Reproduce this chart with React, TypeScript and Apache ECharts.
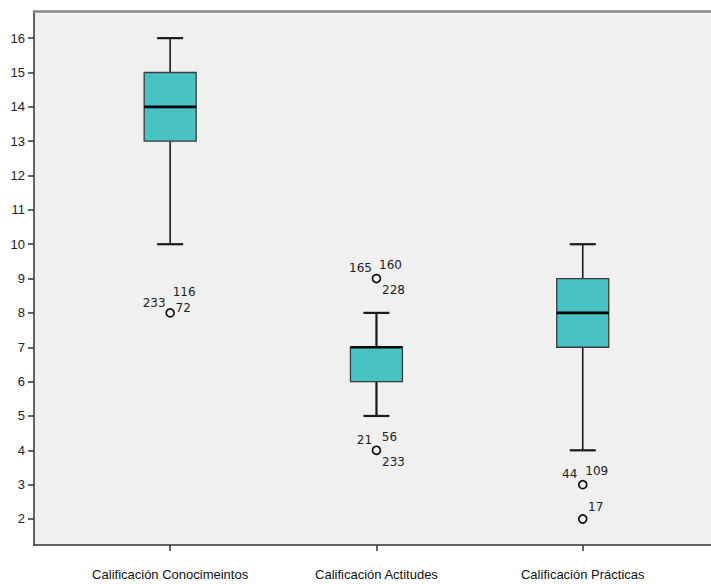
import React, { useEffect, useRef } from "react";
import * as echarts from "echarts";

const categories = ["Calificación Conocimeintos", "Calificación Actitudes", "Calificación Prácticas"];
// [min, Q1, median, Q3, max]
const boxStats = [
  [10, 13, 14, 15, 16],
  [5, 6, 7, 7, 8],
  [4, 7, 8, 9, 10],
];
// [category index, value]
const outliers = [
  [0, 8],
  [1, 9],
  [1, 4],
  [2, 3],
  [2, 2],
];
const outlierIds = [
  ["233", "116", "72"],
  ["165", "160", "228"],
  ["21", "56", "233"],
  ["44", "109"],
  ["17"],
];
const yTicks = [2, 3, 4, 5, 6, 7, 8, 9, 10, 11, 12, 13, 14, 15, 16];

// label placement (pixel offsets from the outlier point) - styling only
const labelOffsets = [
  [[-16, -10], [14, -21], [13, -5]],
  [[-16, -11], [14, -14], [17, 11]],
  [[-12, -10], [13, -13], [17, 12]],
  [[-13, -11], [14, -14]],
  [[13, -12]],
];

const labelData: any[] = [];
outliers.forEach((o, k) => {
  outlierIds[k].forEach((id, j) => {
    labelData.push({ value: [o[0], o[1]], text: id, off: labelOffsets[k][j] });
  });
});

export default function App() {
  const ref = useRef<HTMLDivElement>(null);
  useEffect(() => {
    document.body.style.margin = "0";
    const chart = echarts.init(ref.current!, null, { renderer: "svg" });
    const xMin = -0.66;
    const xMax = 2.6217;
    const option: any = {
      animation: false,
      grid: {
        left: 34,
        right: 0,
        top: 11,
        bottom: 39,
        show: true,
        backgroundColor: "#F0F0F0",
        borderWidth: 0,
      },
      xAxis: [
        {
          type: "value",
          min: xMin,
          max: xMax,
          splitLine: { show: false },
          axisLine: { show: true, onZero: false, lineStyle: { color: "#333", width: 1.5 } },
          axisTick: { show: true, customValues: [0, 1, 2], length: 6, lineStyle: { color: "#333", width: 1.5 } },
          axisLabel: {
            customValues: [0, 1, 2],
            formatter: (v: number) => categories[Math.round(v)] ?? "",
            margin: 23,
            fontSize: 13,
            fontFamily: "Liberation Sans",
            color: "#111",
          },
        },
        {
          type: "value",
          position: "top",
          min: xMin,
          max: xMax,
          splitLine: { show: false },
          axisLine: { show: true, onZero: false, lineStyle: { color: "#888", width: 2.5 } },
          axisTick: { show: false },
          axisLabel: { show: false },
        },
      ],
      yAxis: {
        type: "value",
        min: 1.243,
        max: 16.79,
        splitLine: { show: false },
        axisLine: { show: true, onZero: false, lineStyle: { color: "#333", width: 1.5 } },
        axisTick: { show: true, customValues: yTicks, length: 6, lineStyle: { color: "#333", width: 1.5 } },
        axisLabel: {
          customValues: yTicks,
          margin: 9,
          fontSize: 13,
          fontFamily: "Liberation Sans",
          color: "#222",
        },
      },
      series: [
        {
          type: "custom",
          data: boxStats.map((s, i) => [i, ...s]),
          encode: { x: 0, y: [1, 2, 3, 4, 5] },
          renderItem: (params: any, api: any) => {
            const i = api.value(0);
            const pMin = api.coord([i, api.value(1)]);
            const pQ1 = api.coord([i, api.value(2)]);
            const pMed = api.coord([i, api.value(3)]);
            const pQ3 = api.coord([i, api.value(4)]);
            const pMax = api.coord([i, api.value(5)]);
            const cx = pMin[0];
            const bw = 52;
            const cw = 26;
            const thick = i === 1 ? 2.2 : 1.6;
            const ls = { stroke: "#1a1a1a", lineWidth: thick };
            return {
              type: "group",
              children: [
                { type: "line", shape: { x1: cx, y1: pQ3[1], x2: cx, y2: pMax[1] }, style: ls },
                { type: "line", shape: { x1: cx, y1: pQ1[1], x2: cx, y2: pMin[1] }, style: ls },
                { type: "line", shape: { x1: cx - cw / 2, y1: pMax[1], x2: cx + cw / 2, y2: pMax[1] }, style: { stroke: "#1a1a1a", lineWidth: 2.2 } },
                { type: "line", shape: { x1: cx - cw / 2, y1: pMin[1], x2: cx + cw / 2, y2: pMin[1] }, style: { stroke: "#1a1a1a", lineWidth: 2.2 } },
                {
                  type: "rect",
                  shape: { x: cx - bw / 2, y: pQ3[1], width: bw, height: pQ1[1] - pQ3[1] },
                  style: { fill: "#48C2C5", stroke: "#3a3a3a", lineWidth: 1.3 },
                },
                { type: "line", shape: { x1: cx - bw / 2, y1: pMed[1], x2: cx + bw / 2, y2: pMed[1] }, style: { stroke: "#000", lineWidth: 2.6 } },
              ],
            };
          },
          z: 2,
        },
        {
          type: "scatter",
          data: outliers,
          symbol: "circle",
          symbolSize: 8,
          itemStyle: { color: "#F0F0F0", borderColor: "#111", borderWidth: 1.7, opacity: 1 },
          z: 3,
        },
        {
          type: "custom",
          data: labelData.map((d) => d.value),
          encode: { x: 0, y: 1 },
          renderItem: (params: any, api: any) => {
            const d = labelData[params.dataIndex];
            const p = api.coord([api.value(0), api.value(1)]);
            return {
              type: "text",
              x: p[0] + d.off[0],
              y: p[1] + d.off[1],
              style: {
                text: d.text,
                fontSize: 12,
                fontFamily: "DejaVu Sans",
                fill: "#222",
                align: "center",
                verticalAlign: "middle",
              },
            };
          },
          z: 4,
        },
      ],
    };
    chart.setOption(option);
    return () => chart.dispose();
  }, []);
  return <div ref={ref} style={{ width: 711, height: 584 }} />;
}
